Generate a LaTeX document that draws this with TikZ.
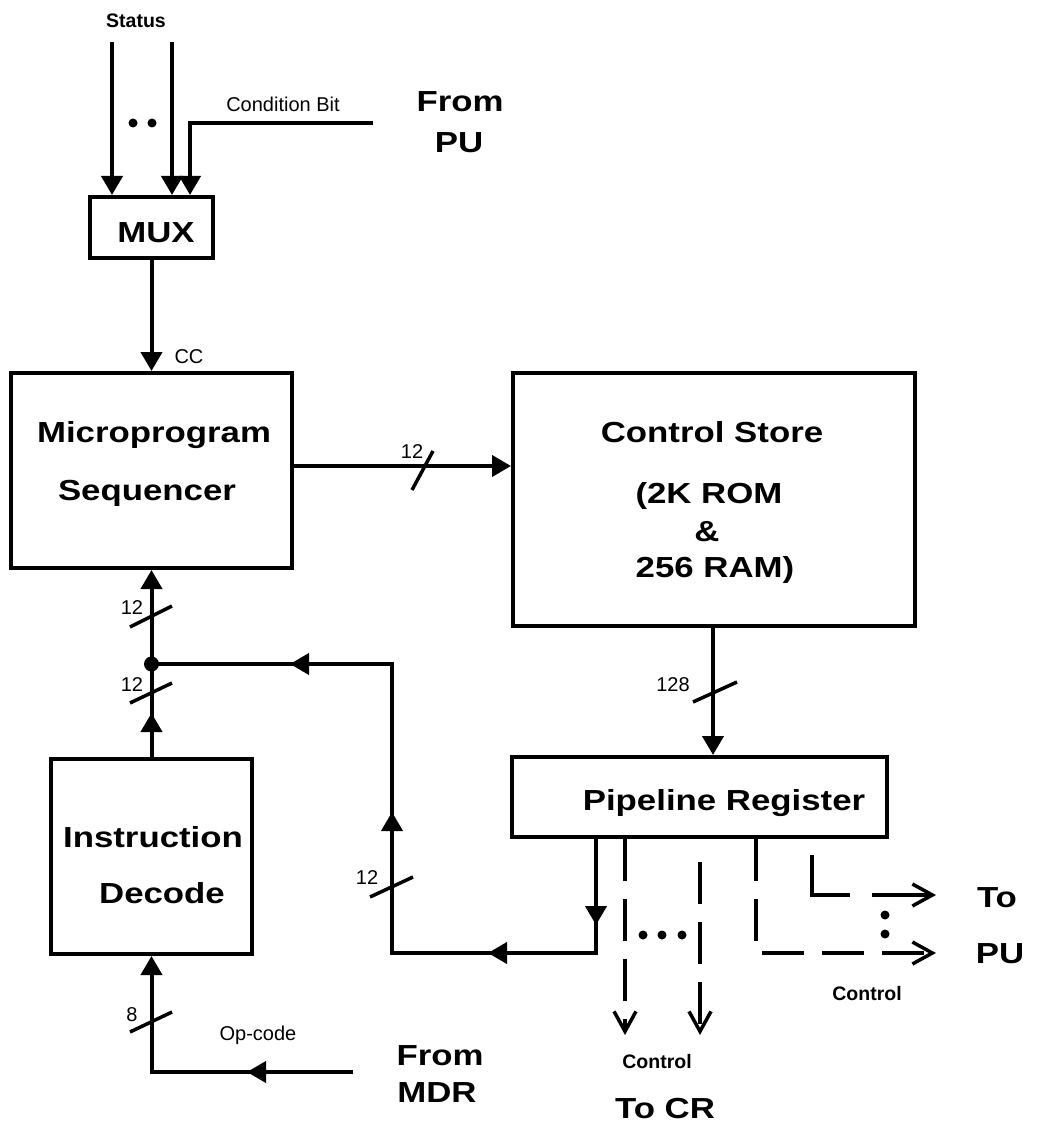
\documentclass[tikz,border=0pt]{standalone}
\usepackage{fontspec}
\setmainfont{Liberation Sans}
\newfontfamily\bigbf[FakeStretch=1.2]{Liberation Sans}
\usetikzlibrary{arrows.meta,calc,decorations.markings}
\tikzset{
  box/.style={draw,line width=4pt,rectangle,inner sep=0pt},
  wire/.style={line width=4pt},
  arr/.style={wire,-{Triangle[length=19pt,width=21pt]}},
  marrow/.style={postaction={decorate,decoration={markings,mark=at position #1 with {\arrow{Triangle[length=19pt,width=21pt]}}}}},
  slashmark/.style={line width=3.5pt},
  small/.style={anchor=base,inner sep=0pt,font=\fontsize{20}{24}\selectfont},
  smallb/.style={anchor=base,inner sep=0pt,font=\bfseries\fontsize{19.5}{24}\selectfont},
  big/.style={anchor=base,inner sep=0pt,font=\bigbf\bfseries\fontsize{29}{34}\selectfont},
  ctl/.style={line width=3.5pt,dash pattern=on 42pt off 18pt},
  barb/.style={-{Straight Barb[length=20pt,width=22pt,line width=3.5pt]}},
  dotnode/.style={circle,fill,inner sep=0pt,minimum size=9pt},
}
\begin{document}
\begin{tikzpicture}[x=1pt,y=-1pt]
\useasboundingbox (0,0) rectangle (1063,1123);
% boxes
\node[box,minimum width=123pt,minimum height=61pt] (mux) at (151.5,227.5) {};
\node[box,minimum width=281pt,minimum height=195pt] (seq) at (151.5,470.5) {};
\node[box,minimum width=402pt,minimum height=253pt] (cs) at (714,499.5) {};
\node[box,minimum width=375pt,minimum height=80pt] (pr) at (699.5,797) {};
\node[box,minimum width=201pt,minimum height=195pt] (id) at (151.5,856.5) {};
% box texts
\node[big] (muxt) at (156,243) {MUX};
\node[big] (seqt1) at (154,442) {Microprogram};
\node[big] (seqt2) at (147,500) {Sequencer};
\node[big] (cst1) at (712,442) {Control Store};
\node[big] (cst2) at (709,503) {(2K ROM};
\node[big] (cst3) at (707,541) {\&};
\node[big] (cst4) at (715,577) {256 RAM)};
\node[big] (prt) at (724,810) {Pipeline Register};
\node[big] (idt1) at (153,847) {Instruction};
\node[big] (idt2) at (162,903) {Decode};
% outside texts
\node[big] (frompu1) at (460,112) {From};
\node[big] (frompu2) at (459,153) {PU};
\node[big] (topu1) at (997,907) {To};
\node[big] (topu2) at (1000,963) {PU};
\node[big] (tocr) at (665,1118) {To CR};
\node[big] (frommdr1) at (440,1065) {From};
\node[big] (frommdr2) at (437,1102) {MDR};
\node[smallb] (status) at (136,28) {Status};
\node[small] (cbit) at (283,112) {Condition Bit};
\node[small] (cc) at (189,363) {CC};
\node[small] (n12a) at (412,458) {12};
\node[small] (n12b) at (132,614) {12};
\node[small] (n12c) at (132,691) {12};
\node[small] (n128) at (673,691) {128};
\node[small] (n12d) at (367,884) {12};
\node[small] (n8) at (132,1021) {8};
\node[small] (opc) at (258,1040) {Op-code};
\node[smallb] (ctl1) at (867,1000) {Control};
\node[smallb] (ctl2) at (657,1068) {Control};
% coordinates
\coordinate (s1) at (112,42);
\coordinate (s2) at (172,42);
\coordinate (cb) at (373,123);
\coordinate (so) at ([yshift=4.5pt]seq.east);
\coordinate (J) at (151.5,664);
\coordinate (fb1) at (392,953);
\coordinate (fb2) at (392,664);
\coordinate (mdr) at (353,1072);
\coordinate (e1) at (625,1035);
\coordinate (b2) at (700,862);
\coordinate (e2) at (700,1035);
\coordinate (c3) at (756,953);
\coordinate (e3) at (936,953);
\coordinate (b4) at (812,855);
\coordinate (c4) at (812,895);
\coordinate (e4) at (936,895);
% status inputs
\draw[arr] (s1) -- (s1 |- mux.north);
\draw[arr] (s2) -- (s2 |- mux.north);
\node[dotnode] (dd1) at (133,123) {};
\node[dotnode] (dd2) at (152,123) {};
\draw[arr] (cb) -| ([xshift=38.5pt]mux.north);
% mux to sequencer
\draw[arr] (mux.south) -- (mux.south |- seq.north);
% sequencer to control store
\draw[arr] (so) -- (so -| cs.west);
\draw[slashmark] (412,490) -- (433,451);
% control store to pipeline
\draw[arr] (cs.south -| 713,0) -- (pr.north -| 713,0);
\draw[slashmark] (693,702) -- (737,682);
% decode to sequencer
\draw[arr,marrow=44pt] (id.north) -- (seq.south);
\draw[slashmark] (130,627) -- (172,606);
\draw[slashmark] (130,703) -- (172,683);
\node[dotnode,minimum size=15pt] (jd) at (J) {};
% feedback loop
\draw[wire,marrow=86pt,marrow=222pt,marrow=459pt,marrow=709pt]
  ([xshift=-103.5pt]pr.south) |- (fb1) -- (fb2) -- (J);
\draw[slashmark] (370,897) -- (413,877);
% MDR input
\draw[arr,marrow=106pt] (mdr) -| (id.south);
\draw[slashmark] (130,1032) -- (172,1012);
% control outputs
\draw[ctl,barb] (pr.south -| e1) -- (e1);
\draw[ctl,barb] (b2) -- (e2);
\node[dotnode] (hd1) at (643,935) {};
\node[dotnode] (hd2) at (662,935) {};
\node[dotnode] (hd3) at (682,935) {};
\draw[ctl,barb] (pr.south -| c3) -- (c3) -- (e3);
\draw[line width=3.5pt,dash pattern=on 78pt off 22pt on 120pt off 1pt,barb] (b4) -- (c4) -- (e4);
\node[dotnode] (vd1) at (885,915) {};
\node[dotnode] (vd2) at (885,934) {};
\end{tikzpicture}
\end{document}
